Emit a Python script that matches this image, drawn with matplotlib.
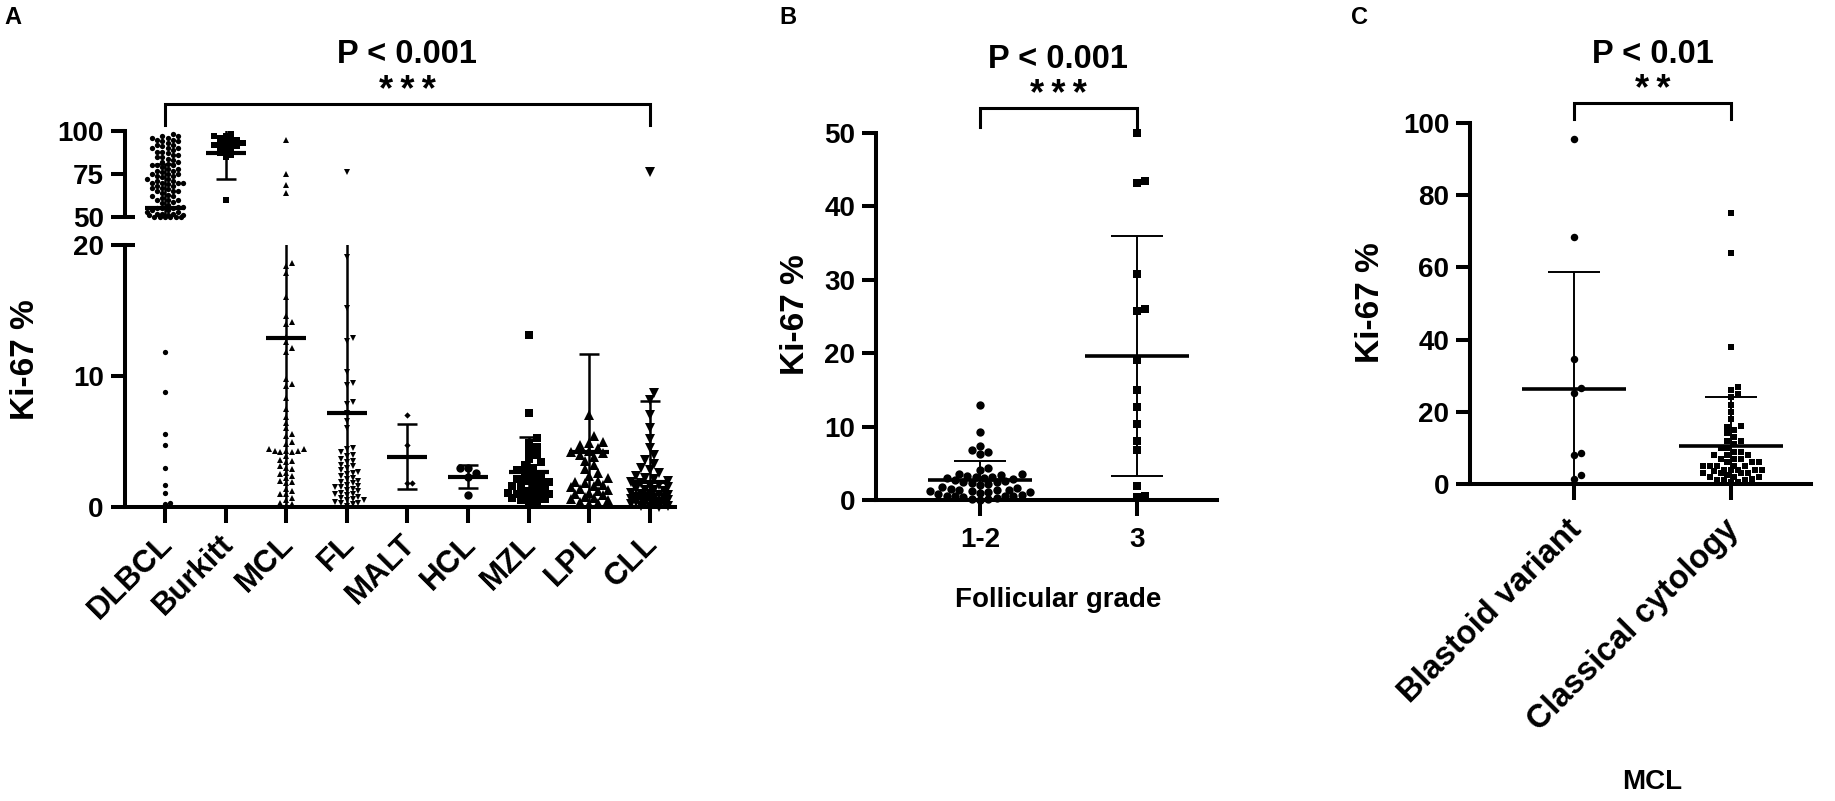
import numpy as np
import matplotlib
matplotlib.use("Agg")
import matplotlib.pyplot as plt
from matplotlib.transforms import blended_transform_factory
from matplotlib.ticker import FixedLocator

plt.rcParams['font.family'] = ['Liberation Sans', 'DejaVu Sans']
plt.rcParams['font.weight'] = 'bold'

# ---------------- data ----------------
# Panel A: Ki-67 % per lymphoma subtype
a_groups = ["DLBCL", "Burkitt", "MCL", "FL", "MALT", "HCL", "MZL", "LPL", "CLL"]
dlbcl = [98, 97, 97, 96, 96, 95, 95, 94, 94, 93, 92, 92, 91, 90, 90, 90, 89, 88, 88, 87,
         86, 86, 85, 85, 84, 83, 82, 82, 81, 80, 80, 80, 79, 78, 78, 77, 77, 76, 75, 75,
         75, 74, 74, 73, 72, 72, 71, 71, 70, 70, 70, 70, 69, 68, 68, 67, 67, 66, 65, 65,
         65, 64, 63, 62, 62, 61, 60, 60, 60, 59, 58, 57, 56, 56, 55, 55, 55, 54, 54, 53,
         53, 52, 52, 52, 51, 51, 51, 50, 50, 50, 50, 50, 50,
         11.8, 8.8, 5.6, 4.7, 3.0, 1.7, 1.1, 0.3, 0.2]
burkitt = [98, 97, 97, 96, 95, 95, 94, 93, 93, 92, 92, 91, 91, 90, 89, 88, 87, 86, 85, 60]
mcl = [95, 75, 68.5, 64, 18.6, 18.4, 17.9, 16.0, 14.6, 14.1, 14.0, 13.0, 12.6, 12.1, 11.8,
       9.8, 9.4, 9.2, 8.3, 7.5, 6.9, 6.4, 6.0, 5.6, 5.4, 5.0, 4.8, 4.4, 4.4, 4.3, 4.3, 4.3,
       4.2, 4.2, 3.9, 3.6, 3.5, 3.4, 3.1, 3.0, 2.9, 2.6, 2.5, 2.4, 2.2, 2.0, 1.9, 1.8, 1.4,
       1.2, 1.0, 1.0, 0.7, 0.5, 0.3, 0.2, 0.1]
fl = [76, 19.1, 15.2, 12.9, 12.7, 10.3, 9.5, 9.3, 8.0, 7.9, 7.2, 6.6, 6.0, 4.5, 4.4, 4.2,
      4.0, 3.9, 3.7, 3.5, 3.4, 3.2, 3.1, 3.0, 2.8, 2.7, 2.6, 2.5, 2.4, 2.2, 2.1, 2.0, 1.9,
      1.8, 1.7, 1.6, 1.5, 1.5, 1.4, 1.3, 1.2, 1.1, 1.0, 1.0, 0.9, 0.8, 0.7, 0.6, 0.5, 0.5,
      0.4, 0.3, 0.3, 0.2, 0.1]
malt = [7.0, 4.7, 1.8, 1.8]
hcl = [3.0, 3.0, 2.6, 2.3, 0.9]
mzl = [13.1, 7.2, 5.3, 4.9, 4.6, 4.3, 4.0, 3.7, 3.4, 3.2, 3.0, 2.8, 2.6, 2.4, 2.3, 2.1,
       2.0, 1.9, 1.8, 1.7, 1.6, 1.5, 1.4, 1.3, 1.2, 1.1, 1.0, 1.0, 0.9, 0.9, 0.8, 0.7,
       0.6, 0.5, 0.4, 0.3]
lpl = [7.0, 5.4, 5.0, 4.9, 4.7, 4.5, 4.3, 4.2, 4.1, 4.0, 3.8, 3.5, 3.2, 2.9, 2.6, 2.4,
       2.2, 2.0, 1.9, 1.8, 1.7, 1.6, 1.5, 1.4, 1.3, 1.2, 1.1, 1.0, 0.9, 0.8, 0.7, 0.6,
       0.5, 0.4, 0.3, 0.2]
cll = [76, 8.7, 8.2, 7.0, 6.0, 5.2, 4.5, 4.0, 3.6, 3.3, 3.0, 2.8, 2.6, 2.4, 2.2, 2.1,
       2.0, 1.9, 1.8, 1.7, 1.6, 1.5, 1.4, 1.3, 1.3, 1.2, 1.1, 1.0, 1.0, 0.9, 0.9, 0.8,
       0.8, 0.7, 0.7, 0.6, 0.6, 0.5, 0.5, 0.4, 0.4, 0.3, 0.3, 0.2, 0.2, 0.1, 0.1, 0.0, 0.0]
a_values = [dlbcl, burkitt, mcl, fl, malt, hcl, mzl, lpl, cll]
a_means = [55.2, 87.4, 12.9, 7.2, 3.85, 2.3, 2.7, 4.2, 1.9]
a_sds = [25.5, 15.4, 20.0, 13.0, 2.5, 0.87, 2.65, 7.5, 6.2]
a_upper_ticks = [50, 75, 100]
a_lower_ticks = [0, 10, 20]

# Panel B: follicular grade
b_groups = ["1-2", "3"]
grade_12 = [12.9, 9.3, 7.3, 6.8, 6.5, 6.3, 4.4, 4.1, 3.6, 3.5, 3.4, 3.3, 3.2, 3.1, 3.0, 3.0,
            2.9, 2.7, 2.6, 2.5, 2.4, 2.3, 2.2, 2.1, 1.8, 1.6, 1.5, 1.4, 1.3, 1.3, 1.2, 1.2,
            1.1, 1.1, 1.0, 0.8, 0.7, 0.6, 0.6, 0.5, 0.5, 0.4, 0.3, 0.2, 0.1, 0.0]
grade_3 = [50, 43.2, 43.4, 30.8, 26.0, 25.8, 19.1, 15.0, 12.7, 10.3, 8.1, 6.8, 1.9, 0.5, 0.4]
b_values = [grade_12, grade_3]
b_means = [2.75, 19.6]
b_sds = [2.6, 16.3]
b_ticks = [0, 10, 20, 30, 40, 50]

# Panel C: MCL cytology
c_groups = ["Blastoid variant", "Classical cytology"]
blastoid = [95.5, 68.5, 34.5, 26.6, 25.2, 8.5, 8.0, 2.5, 1.5]
classical = [75, 64, 38, 27, 26, 25, 24, 22, 20, 18, 16, 15.8, 15, 14, 13, 12, 12, 11, 10,
             10, 9, 9, 8, 8, 8, 7, 7, 7, 6, 6, 6, 5, 5, 5, 5, 5, 4, 4, 4, 4, 4, 3.5, 3, 3,
             3, 3, 2.5, 2, 2, 2, 1.5, 1, 1, 1, 0.5, 0.5]
c_values = [blastoid, classical]
c_means = [26.2, 10.5]
c_sds = [32.6, 13.5]
c_ticks = [0, 20, 40, 60, 80, 100]

# ---------------- styles ----------------
a_markers = ['o', 's', '^', 'v', 'D', 'o', 's', '^', 'v']
a_msizes = [3.8, 4.2, 4.2, 4.2, 3.2, 6.0, 5.8, 6.6, 6.6]
b_markers = ['o', 's']
b_msizes = [6.0, 5.6]
c_markers = ['o', 's']
c_msizes = [5.4, 5.0]
LW_AX = 2.9
STARS3 = "*\u2009*\u2009*"
STARS2 = "*\u2009*"

W, H = 1835, 801
fig = plt.figure(figsize=(W / 100, H / 100), dpi=100)
fig.patch.set_facecolor('white')


def px_axes(l, t, r, b):
    return fig.add_axes([l / W, 1 - b / H, (r - l) / W, (b - t) / H])


def fy(v):
    return 1 - v / H


def style(ax, bottom=True):
    ax.spines['top'].set_visible(False)
    ax.spines['right'].set_visible(False)
    ax.spines['left'].set_linewidth(LW_AX)
    if bottom:
        ax.spines['bottom'].set_linewidth(LW_AX)
    else:
        ax.spines['bottom'].set_visible(False)
    ax.tick_params(axis='y', which='major', length=10, width=LW_AX, labelsize=20, pad=5)
    ax.tick_params(axis='x', which='major', length=11.5, width=LW_AX, labelsize=20, pad=8)
    ax.set_facecolor('none')


def swarm_x(ax, xc, vals, diam_px, max_hw_px, overlap=0.85):
    vals = np.asarray(vals, float)
    if len(vals) == 0:
        return vals
    disp = ax.transData.transform(np.column_stack([np.full(len(vals), xc), vals]))
    x0 = disp[0, 0]
    ys = disp[:, 1]
    step = diam_px * 0.5
    dmin = diam_px * overlap
    cands = [0.0]
    for k in range(1, int(max_hw_px // step) + 1):
        cands += [k * step, -k * step]
    px_, py_ = [], []
    offs = np.zeros(len(vals))
    for i in np.argsort(ys, kind='stable'):
        best, best_d = 0.0, -1.0
        for c in cands:
            d = np.inf if not px_ else np.min(np.hypot(np.array(px_) - c, np.array(py_) - ys[i]))
            if d >= dmin:
                best = c
                break
            if d > best_d:
                best, best_d = c, d
        offs[i] = best
        px_.append(best)
        py_.append(ys[i])
    inv = ax.transData.inverted()
    return inv.transform(np.column_stack([x0 + offs, ys]))[:, 0]


def dots(ax, xc, vals, marker, ms, max_hw_px):
    vals = np.asarray(vals, float)
    xs = swarm_x(ax, xc, vals, ms / 0.72, max_hw_px)
    ax.plot(xs, vals, linestyle='none', marker=marker, ms=ms, color='black',
            markeredgewidth=0, clip_on=False, zorder=2)


def summary(ax, x, mean, sd, lw_mean, lw_sd, mean_hw=0.33, cap_hw=0.165):
    lo, hi = mean - sd, mean + sd
    ax.vlines(x, lo, hi, color='black', lw=lw_sd, zorder=3)
    ax.hlines([lo, hi], x - cap_hw, x + cap_hw, color='black', lw=lw_sd, zorder=3)
    ax.hlines(mean, x - mean_hw, x + mean_hw, color='black', lw=lw_mean, zorder=4)


def bracket(ax, x1, x2, y_bar, y_end, y_star, y_p, stars, ptext):
    tr = blended_transform_factory(ax.transData, fig.transFigure)
    ax.plot([x1, x1, x2, x2], [fy(y_end), fy(y_bar), fy(y_bar), fy(y_end)], transform=tr,
            color='black', lw=2.2, clip_on=False, solid_joinstyle='miter')
    xm = (x1 + x2) / 2
    ax.text(xm, fy(y_star), stars, transform=tr, ha='center', va='baseline', fontsize=26)
    ax.text(xm, fy(y_p), ptext, transform=tr, ha='center', va='baseline', fontsize=23.5)


# ---------------- panel A ----------------
axA_up = px_axes(124.5, 131, 675, 217)
axA_lo = px_axes(124.5, 245, 675, 507)
for ax, lim, ticks in [(axA_up, (50, 100), a_upper_ticks), (axA_lo, (0, 20), a_lower_ticks)]:
    ax.set_xlim(-0.668, 8.416)
    ax.set_ylim(*lim)
    ax.set_yticks(ticks)
style(axA_up, bottom=False)
style(axA_lo)
axA_up.set_xticks([])
axA_lo.set_xticks(range(len(a_groups)))
axA_lo.set_xticklabels([])
# break marks: inward minor tick at the cut ends
for ax, cut in [(axA_up, 50), (axA_lo, 20)]:
    ax.yaxis.remove_overlapping_locs = False
    ax.yaxis.set_minor_locator(FixedLocator([cut]))
    ax.tick_params(axis='y', which='minor', direction='in', length=7, width=LW_AX)

for i, vals in enumerate(a_values):
    v = np.asarray(vals, float)
    dots(axA_up, i, v[v >= 50], a_markers[i], a_msizes[i], 20)
    dots(axA_lo, i, v[v <= 20], a_markers[i], a_msizes[i], 22)
    for ax in (axA_up, axA_lo):
        summary(ax, i, a_means[i], a_sds[i], 3.0, 1.8)

trA = blended_transform_factory(axA_lo.transData, fig.transFigure)
for i, name in enumerate(a_groups):
    axA_lo.text(i - 0.12, fy(529), name, transform=trA, rotation=45, ha='right', va='top',
                rotation_mode='anchor', fontsize=22.5)
bracket(axA_up, 0, len(a_groups) - 1, 104, 125, 101, 63, STARS3, "P < 0.001")
fig.text(26 / W, fy(360), "Ki-67 %", rotation=90, ha='center', va='center', fontsize=24)
fig.text(13 / W, fy(17), "A", ha='center', va='center', fontsize=17)

# ---------------- panel B ----------------
axB = px_axes(876, 133, 1217, 500)
axB.set_xlim(-0.662, 1.51)
axB.set_ylim(0, 50)
axB.set_yticks(b_ticks)
style(axB)
axB.set_xticks(range(len(b_groups)))
axB.set_xticklabels(b_groups)
for i, vals in enumerate(b_values):
    dots(axB, i, vals, b_markers[i], b_msizes[i], 52)
    summary(axB, i, b_means[i], b_sds[i], 2.6, 1.4)
bracket(axB, 0, 1, 108, 127, 105, 68, STARS3, "P < 0.001")
fig.text(795 / W, fy(315), "Ki-67 %", rotation=90, ha='center', va='center', fontsize=24)
fig.text(1058 / W, fy(600), "Follicular grade", ha='center', va='center', fontsize=20)
fig.text(788 / W, fy(17), "B", ha='center', va='center', fontsize=17)

# ---------------- panel C ----------------
axC = px_axes(1470, 123, 1811, 484)
axC.set_xlim(-0.662, 1.51)
axC.set_ylim(0, 100)
axC.set_yticks(c_ticks)
style(axC)
axC.set_xticks(range(len(c_groups)))
axC.set_xticklabels([])
for i, vals in enumerate(c_values):
    dots(axC, i, vals, c_markers[i], c_msizes[i], 32)
    summary(axC, i, c_means[i], c_sds[i], 2.6, 1.4)
trC = blended_transform_factory(axC.transData, fig.transFigure)
for i, name in enumerate(c_groups):
    axC.text(i - 0.05, fy(514), name, transform=trC, rotation=45, ha='right', va='top',
             rotation_mode='anchor', fontsize=23.5)
bracket(axC, 0, 1, 103, 119, 100, 63, STARS2, "P < 0.01")
fig.text(1370 / W, fy(303), "Ki-67 %", rotation=90, ha='center', va='center', fontsize=24)
fig.text(1652 / W, fy(782), "MCL", ha='center', va='center', fontsize=20)
fig.text(1360 / W, fy(17), "C", ha='center', va='center', fontsize=17)

fig.savefig("out.png", dpi=100, facecolor='white')
